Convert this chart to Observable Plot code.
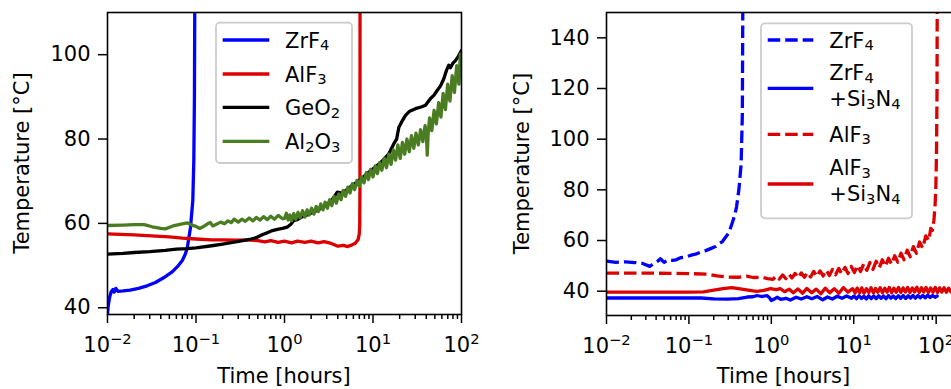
<!DOCTYPE html>
<html>
<head>
<meta charset="utf-8">
<script src="https://cdn.jsdelivr.net/npm/d3@7"></script>
<script src="https://cdn.jsdelivr.net/npm/@observablehq/plot@0.6"></script>
<style>
  html, body { margin: 0; padding: 0; background: #fff; overflow: hidden; }
  #fig { position: relative; width: 951px; height: 389px; overflow: hidden; }
  #fig svg { position: absolute; top: 0; }
</style>
</head>
<body>
<div id="fig"></div>
<script>
// ---- Left panel: [time in hours, temperature in °C] ----
const zrf4 = [
  [0.0100, 38.5], [0.0102, 40.5], [0.0106, 42.6], [0.0110, 43.8], [0.0115, 44.3],
  [0.0119, 43.7], [0.0124, 44.6], [0.0131, 43.9], [0.0150, 44.0], [0.0180, 44.2],
  [0.0224, 44.6], [0.0280, 45.2], [0.0348, 46.0], [0.0430, 47.1], [0.0538, 48.5],
  [0.0620, 49.8], [0.0700, 51.2], [0.0760, 52.8], [0.0800, 54.4], [0.0867, 59.1],
  [0.0920, 65.4], [0.0945, 75.0], [0.0960, 90.0], [0.0970, 115]
];
const alf3 = [
  [0.0100, 57.5], [0.0200, 57.3], [0.0350, 57.0], [0.0500, 56.8], [0.0700, 56.5],
  [0.1000, 56.3], [0.1500, 56.1], [0.2000, 56.1], [0.3000, 56.0], [0.4000, 56.1],
  [0.5000, 55.9], [0.6000, 55.6], [0.7000, 55.9], [0.8500, 55.5], [1.00, 55.8],
  [1.20, 55.4], [1.40, 55.8], [1.70, 55.5], [2.00, 55.8], [2.40, 55.4],
  [2.80, 55.7], [3.20, 55.4], [3.60, 55.0], [4.00, 54.6], [4.60, 54.8],
  [5.20, 54.5], [5.80, 54.9], [6.30, 55.3], [6.80, 56.2], [7.00, 57.5],
  [7.08, 59.5], [7.12, 68.0], [7.14, 115]
];
const geo2 = [
  [0.0100, 52.7], [0.0150, 52.9], [0.0200, 53.1], [0.0300, 53.3], [0.0450, 53.6],
  [0.0600, 53.9], [0.0800, 54.0], [0.1000, 54.2], [0.1500, 54.7], [0.2000, 55.1],
  [0.2800, 55.6], [0.3500, 56.0], [0.4200, 56.3], [0.4900, 56.7], [0.5600, 57.3],
  [0.6400, 57.8], [0.7300, 58.3], [0.8300, 58.6], [0.9500, 58.8], [1.07, 59.1],
  [1.18, 59.8], [1.27, 60.7], [1.40, 60.9], [1.60, 61.6], [1.90, 62.2],
  [2.30, 63.0], [2.80, 64.0], [3.40, 65.4], [3.95, 67.4], [4.50, 67.2],
  [5.20, 68.2], [6.00, 69.2], [7.00, 70.2], [8.20, 71.4], [9.50, 72.6],
  [11.0, 73.6], [13.0, 75.0], [15.0, 76.4], [17.2, 78.9], [18.5, 80.0],
  [19.6, 82.8], [21.0, 84.0], [23.3, 85.6], [26.0, 86.6], [30.2, 87.2],
  [35.0, 87.6], [39.2, 88.0], [44.7, 89.6], [49.0, 90.4], [53.1, 91.5],
  [58.0, 92.6], [63.1, 94.3], [68.0, 96.4], [71.8, 97.5], [75.1, 96.9],
  [80.0, 98.0], [85.5, 98.6], [92.0, 99.6], [97.5, 100.6], [100, 101.0]
];
const al2o3 = [
  [0.0100, 59.5], [0.0150, 59.6], [0.0200, 59.7], [0.0260, 59.7], [0.0320, 59.2],
  [0.0400, 58.8], [0.0450, 58.7], [0.0550, 59.4], [0.0700, 59.9], [0.0800, 60.1],
  [0.0900, 59.6], [0.1000, 59.3], [0.1100, 58.8], [0.1200, 59.2], [0.1350, 59.9],
  [0.1450, 60.2], [0.1550, 59.4], [0.1700, 59.8], [0.1900, 60.3], [0.2100, 59.9],
  [0.2300, 60.6], [0.2500, 60.2], [0.2700, 61.0], [0.3000, 60.3], [0.3300, 61.0],
  [0.3600, 60.5], [0.4000, 61.3], [0.4400, 60.6], [0.4800, 61.4], [0.5300, 60.8],
  [0.5800, 61.6], [0.6400, 60.9], [0.7000, 61.7], [0.7700, 61.0], [0.8500, 61.9],
  [0.9500, 61.1], [1.00, 61.2], [1.05, 62.4], [1.10, 60.8], [1.15, 62.0],
  [1.20, 60.6], [1.27, 62.3], [1.34, 61.0], [1.42, 62.6], [1.50, 61.3],
  [1.60, 63.0], [1.70, 61.5], [1.80, 63.2], [1.90, 62.0], [2.02, 63.6],
  [2.15, 62.2], [2.28, 64.0], [2.42, 62.8], [2.57, 64.6], [2.72, 63.2],
  [2.88, 65.0], [3.05, 63.6], [3.24, 65.6], [3.43, 64.2], [3.64, 66.4],
  [3.86, 64.8], [4.10, 67.0], [4.35, 65.6], [4.60, 67.8], [4.90, 66.4],
  [5.20, 68.6], [5.50, 67.2], [5.85, 69.4], [6.20, 68.0], [6.60, 70.2],
  [7.00, 68.8], [7.40, 71.0], [7.90, 69.6], [8.40, 72.0], [8.90, 70.4],
  [9.40, 72.8], [10.0, 71.0], [10.6, 73.6], [11.2, 71.8], [11.9, 74.4],
  [12.6, 72.6], [13.4, 75.4], [14.2, 73.2], [15.1, 76.4], [16.0, 74.0],
  [17.0, 77.4], [18.0, 75.0], [19.1, 78.6], [20.3, 75.4], [21.5, 79.2],
  [22.8, 76.4], [24.2, 80.0], [25.7, 77.0], [27.2, 80.8], [28.9, 77.8],
  [30.6, 81.4], [32.5, 78.6], [34.5, 82.2], [36.6, 79.4], [38.8, 83.2],
  [40.2, 80.6], [41.0, 76.2], [42.0, 81.2], [43.6, 85.0], [46.2, 82.0],
  [49.0, 86.8], [52.0, 83.6], [55.2, 88.6], [58.5, 85.2], [62.0, 90.8],
  [65.8, 87.0], [69.8, 93.0], [74.0, 89.0], [78.5, 95.0], [83.2, 91.0],
  [88.3, 97.4], [93.6, 93.0], [97.0, 100.2], [100, 95.0]
];

// ---- Right panel: with and without Si3N4 ----
const zrf4Bare = [
  [0.0100, 51.9], [0.0130, 51.4], [0.0170, 51.6], [0.0220, 51.3], [0.0270, 51.0],
  [0.0335, 49.8], [0.0380, 51.0], [0.0420, 51.9], [0.0450, 52.8], [0.0500, 51.4],
  [0.0560, 52.4], [0.0630, 52.2], [0.0700, 52.4], [0.0790, 53.2], [0.0900, 53.4],
  [0.1040, 54.1], [0.1200, 54.6], [0.1380, 55.4], [0.1600, 56.0], [0.1830, 56.8],
  [0.2100, 57.6], [0.2320, 58.7], [0.2550, 59.6], [0.2780, 61.3], [0.3050, 63.0],
  [0.3330, 66.6], [0.3600, 70.0], [0.3780, 73.2], [0.4030, 79.8], [0.4300, 90.0],
  [0.4450, 110], [0.4510, 155]
];
const zrf4Si3n4 = [
  [0.0100, 37.3], [0.0300, 37.3], [0.0700, 37.3], [0.1400, 37.3], [0.2000, 37.0],
  [0.2900, 36.9], [0.4000, 37.1], [0.5100, 37.7], [0.6000, 37.8], [0.6700, 38.3],
  [0.7600, 37.9], [0.8900, 38.2], [0.9500, 37.4], [1.00, 36.3], [1.10, 37.0],
  [1.17, 37.6], [1.30, 36.8], [1.50, 37.2], [1.70, 36.5], [2.00, 37.6],
  [2.30, 36.9], [2.70, 37.8], [3.10, 37.0], [3.60, 37.9], [4.20, 36.6],
  [4.80, 37.7], [5.50, 36.9], [6.30, 38.0], [7.20, 37.2], [8.20, 38.1],
  [9.40, 37.2], [10.1, 38.1], [10.8, 37.0], [11.6, 38.2], [12.4, 37.1],
  [13.3, 38.0], [14.2, 36.9], [15.2, 38.2], [16.3, 37.1], [17.5, 38.1],
  [18.7, 37.0], [20.0, 38.2], [21.5, 37.2], [23.0, 38.1], [24.6, 37.0],
  [26.4, 38.3], [28.2, 37.2], [30.2, 38.1], [32.4, 37.1], [34.7, 38.2],
  [37.2, 37.2], [39.8, 38.3], [42.6, 37.1], [45.7, 38.2], [48.9, 37.3],
  [52.4, 38.3], [56.0, 37.2], [60.0, 38.3], [64.3, 37.4], [68.8, 38.3],
  [73.7, 37.4], [79.0, 38.4], [84.5, 37.5], [90.5, 38.3], [97.0, 37.6],
  [103, 38.1]
];
const alf3Bare = [
  [0.0100, 47.1], [0.0200, 47.1], [0.0400, 47.1], [0.0700, 47.0], [0.1100, 46.9],
  [0.1700, 46.7], [0.2200, 46.0], [0.2900, 45.6], [0.4000, 45.5], [0.5000, 45.9],
  [0.6000, 45.4], [0.7500, 45.5], [0.9000, 45.0], [1.05, 44.7], [1.15, 46.0],
  [1.25, 44.8], [1.37, 46.4], [1.50, 45.0], [1.63, 46.8], [1.78, 45.2],
  [1.94, 47.0], [2.12, 45.3], [2.31, 47.2], [2.52, 45.5], [2.75, 47.4],
  [3.00, 45.6], [3.27, 47.8], [3.57, 45.8], [3.90, 48.0], [4.25, 46.0],
  [4.64, 48.3], [5.06, 46.2], [5.52, 48.6], [6.02, 46.5], [6.57, 49.0],
  [7.17, 46.8], [7.82, 49.4], [8.53, 47.0], [9.31, 49.8], [10.2, 47.4],
  [11.1, 50.2], [12.1, 47.8], [13.2, 50.8], [14.4, 48.2], [15.7, 51.3],
  [17.1, 48.6], [18.7, 51.8], [20.4, 49.2], [22.2, 52.4], [24.2, 49.8],
  [26.4, 53.0], [28.8, 50.6], [31.4, 54.0], [34.3, 51.4], [37.4, 55.0],
  [40.8, 52.4], [44.5, 56.2], [48.5, 53.6], [52.9, 57.6], [57.7, 55.0],
  [62.9, 59.4], [68.6, 57.0], [74.8, 61.8], [81.6, 60.0], [86.0, 64.8],
  [90.0, 64.0], [94.0, 68.0], [97.0, 74.0], [99.0, 80.0], [101, 95.0],
  [102.5, 120], [103, 155]
];
const alf3Si3n4 = [
  [0.0100, 39.6], [0.0500, 39.6], [0.1000, 39.6], [0.1500, 39.7], [0.2000, 40.4],
  [0.2600, 41.0], [0.3300, 41.4], [0.4000, 41.0], [0.5000, 40.5], [0.6000, 40.1],
  [0.6700, 39.9], [0.8100, 40.3], [0.9800, 41.0], [1.15, 40.6], [1.28, 41.0],
  [1.45, 39.8], [1.65, 40.8], [1.85, 39.4], [2.10, 40.9], [2.40, 39.2],
  [2.70, 41.1], [3.10, 39.4], [3.50, 40.8], [4.00, 39.0], [4.50, 41.2],
  [5.10, 39.4], [5.80, 41.0], [6.60, 39.2], [7.50, 41.4], [8.50, 39.6],
  [9.70, 41.0], [10.4, 39.3], [11.0, 41.2], [11.8, 39.4], [12.5, 41.3],
  [13.3, 39.2], [14.2, 41.0], [15.2, 39.5], [16.2, 41.4], [17.3, 39.3],
  [18.4, 41.1], [19.6, 39.6], [20.9, 41.4], [22.3, 39.4], [23.8, 41.2],
  [25.4, 39.6], [27.0, 41.5], [28.8, 39.4], [30.7, 41.2], [32.7, 39.6],
  [34.9, 41.5], [37.2, 39.5], [39.7, 41.3], [42.3, 39.7], [45.1, 41.5],
  [48.1, 39.5], [51.3, 41.3], [54.7, 39.7], [58.3, 41.6], [62.2, 39.5],
  [66.3, 41.4], [70.7, 39.7], [75.4, 41.5], [80.4, 39.5], [85.7, 41.3],
  [91.4, 39.6], [97.4, 41.5], [104, 39.5], [110, 41.3], [117, 39.7],
  [125, 41.4], [133, 39.6], [142, 41.2], [151, 39.8], [160, 41.0]
];

// ---- Labels and ticks ----
const leftNames = ["ZrF_4", "AlF_3", "GeO_2", "Al_2O_3"];
const rightNames = ["ZrF_4", "ZrF_4\n+Si_3N_4", "AlF_3", "AlF_3\n+Si_3N_4"];
const xMajorTicks = [0.01, 0.1, 1, 10, 100];
const leftYTicks = [40, 60, 80, 100];
const rightYTicks = [40, 60, 80, 100, 120, 140];
const xLabel = "Time [hours]";
const yLabel = "Temperature [°C]";

const BLUE = "#0000ff", RED = "#dd0000", BLACK = "#000000", GREEN = "#4a7d22";
const DASH = "12.5,5";
const LW = 3.3;
const FONT = '"DejaVu Sans", sans-serif';
const FS = 21;

function isDecade(d) {
  const l = Math.log10(d);
  return Math.abs(l - Math.round(l)) < 1e-9;
}

function panel({width, marginLeft, marginRight, marginBottom, xDomain, yDomain, yTicks, series}) {
  const minor = d3.scaleLog().domain(xDomain).ticks().filter(d => !isDecade(d));
  return Plot.plot({
    width, height: 389,
    marginLeft, marginRight, marginTop: 12, marginBottom,
    style: {fontFamily: FONT, fontSize: FS + "px", background: "transparent", overflow: "visible"},
    x: {type: "log", domain: xDomain},
    y: {domain: yDomain},
    marks: [
      ...series.map(s => Plot.line(s.data, {
        x: d => d[0], y: d => d[1],
        stroke: s.color, strokeWidth: LW,
        strokeDasharray: s.dash ? DASH : undefined,
        strokeLinecap: s.dash ? "butt" : "round",
        strokeLinejoin: "round",
        clip: true
      })),
      Plot.frame({stroke: "black", strokeWidth: 1.6}),
      Plot.axisX({ticks: minor, tickSize: 5, strokeWidth: 1.5, tickFormat: () => "", label: null}),
      Plot.axisX({ticks: xMajorTicks, tickSize: 9, tickPadding: 14, strokeWidth: 1.5,
        tickFormat: d => "10^" + String(Math.round(Math.log10(d))).replace("-", "\u2212"),
        label: null, fontSize: FS}),
      Plot.axisY({ticks: yTicks, tickSize: 9, tickPadding: 8, strokeWidth: 1.5, label: null, fontSize: FS})
    ]
  });
}

// Turn "10^−2" tick labels into a base with a raised exponent
function superscriptTicks(svg) {
  svg.querySelectorAll("text").forEach(el => {
    const s = el.textContent;
    if (!s.includes("^")) return;
    const [base, exp] = s.split("^");
    el.textContent = "";
    const ns = "http://www.w3.org/2000/svg";
    const a = document.createElementNS(ns, "tspan");
    a.textContent = base;
    const b = document.createElementNS(ns, "tspan");
    b.textContent = exp;
    b.setAttribute("dy", "-8.4");
    b.setAttribute("font-size", "14.7");
    el.append(a, b);
  });
}

// Write text with "_x" marking a subscript character
function richText(sel, str) {
  let lowered = false;
  for (let i = 0; i < str.length; i++) {
    if (str[i] === "_") {
      sel.append("tspan").attr("dy", 2.7).attr("font-size", 14.7).text(str[i + 1]);
      lowered = true;
      i++;
    } else {
      let j = i;
      while (j < str.length && str[j] !== "_") j++;
      const t = sel.append("tspan").text(str.slice(i, j));
      if (lowered) t.attr("dy", -2.7);
      lowered = false;
      i = j - 1;
    }
  }
}

function axisLabels(svg, cx, ylx, cy) {
  const g = d3.select(svg).append("g").attr("font-family", FONT).attr("font-size", FS).attr("fill", "black");
  g.append("text").attr("x", cx).attr("y", 383.3).attr("text-anchor", "middle").text(xLabel);
  g.append("text").attr("transform", `translate(${ylx},${cy}) rotate(-90)`).attr("text-anchor", "middle").text(yLabel);
}

function legend(svg, box, rows) {
  const g = d3.select(svg).append("g")
    .attr("font-family", FONT).attr("font-size", FS).attr("fill", "black").attr("text-anchor", "start");
  g.append("rect")
    .attr("x", box.x).attr("y", box.y).attr("width", box.w).attr("height", box.h)
    .attr("rx", 4).attr("fill", "white").attr("fill-opacity", 0.8)
    .attr("stroke", "#cccccc").attr("stroke-width", 1.8);
  rows.forEach(r => {
    g.append("line")
      .attr("x1", box.hx1).attr("x2", box.hx2).attr("y1", r.y).attr("y2", r.y)
      .attr("stroke", r.color).attr("stroke-width", LW)
      .attr("stroke-dasharray", r.dash ? DASH : null);
    r.name.split("\n").forEach((line, i) => {
      richText(g.append("text").attr("x", box.tx).attr("y", r.baselines[i]), line);
    });
  });
}

const fig = document.getElementById("fig");

// Left panel
const left = panel({
  width: 480, marginLeft: 107, marginRight: 19, marginBottom: 75,
  xDomain: [0.01, 100], yDomain: [38.4, 110], yTicks: leftYTicks,
  series: [
    {data: zrf4, color: BLUE},
    {data: alf3, color: RED},
    {data: geo2, color: BLACK},
    {data: al2o3, color: GREEN}
  ]
});
left.style.left = "0px";
fig.append(left);
superscriptTicks(left);
axisLabels(left, 284, 28.5, 163);
legend(left, {x: 216, y: 22.7, w: 136, h: 140.3, hx1: 222.7, hx2: 269.3, tx: 285}, [
  {name: leftNames[0], color: BLUE, y: 40, baselines: [47.5]},
  {name: leftNames[1], color: RED, y: 74, baselines: [81.5]},
  {name: leftNames[2], color: BLACK, y: 107.3, baselines: [114.8]},
  {name: leftNames[3], color: GREEN, y: 141.3, baselines: [148.8]}
]);

// Right panel (its right edge runs past the page)
const right = panel({
  width: 481, marginLeft: 126, marginRight: 0, marginBottom: 74,
  xDomain: [0.01, 203], yDomain: [30.4, 150], yTicks: rightYTicks,
  series: [
    {data: zrf4Bare, color: BLUE, dash: true},
    {data: zrf4Si3n4, color: BLUE},
    {data: alf3Bare, color: RED, dash: true},
    {data: alf3Si3n4, color: RED}
  ]
});
right.style.left = "480px";
fig.append(right);
superscriptTicks(right);
axisLabels(right, 303.5, 48.5, 163.5);
legend(right, {x: 281, y: 23.3, w: 151, h: 195, hx1: 287.7, hx2: 333.3, tx: 349.3}, [
  {name: rightNames[0], color: BLUE, dash: true, y: 40, baselines: [47.5]},
  {name: rightNames[1], color: BLUE, y: 88.3, baselines: [80, 106]},
  {name: rightNames[2], color: RED, dash: true, y: 134.3, baselines: [141.7]},
  {name: rightNames[3], color: RED, y: 184, baselines: [175, 201]}
]);
</script>
</body>
</html>
